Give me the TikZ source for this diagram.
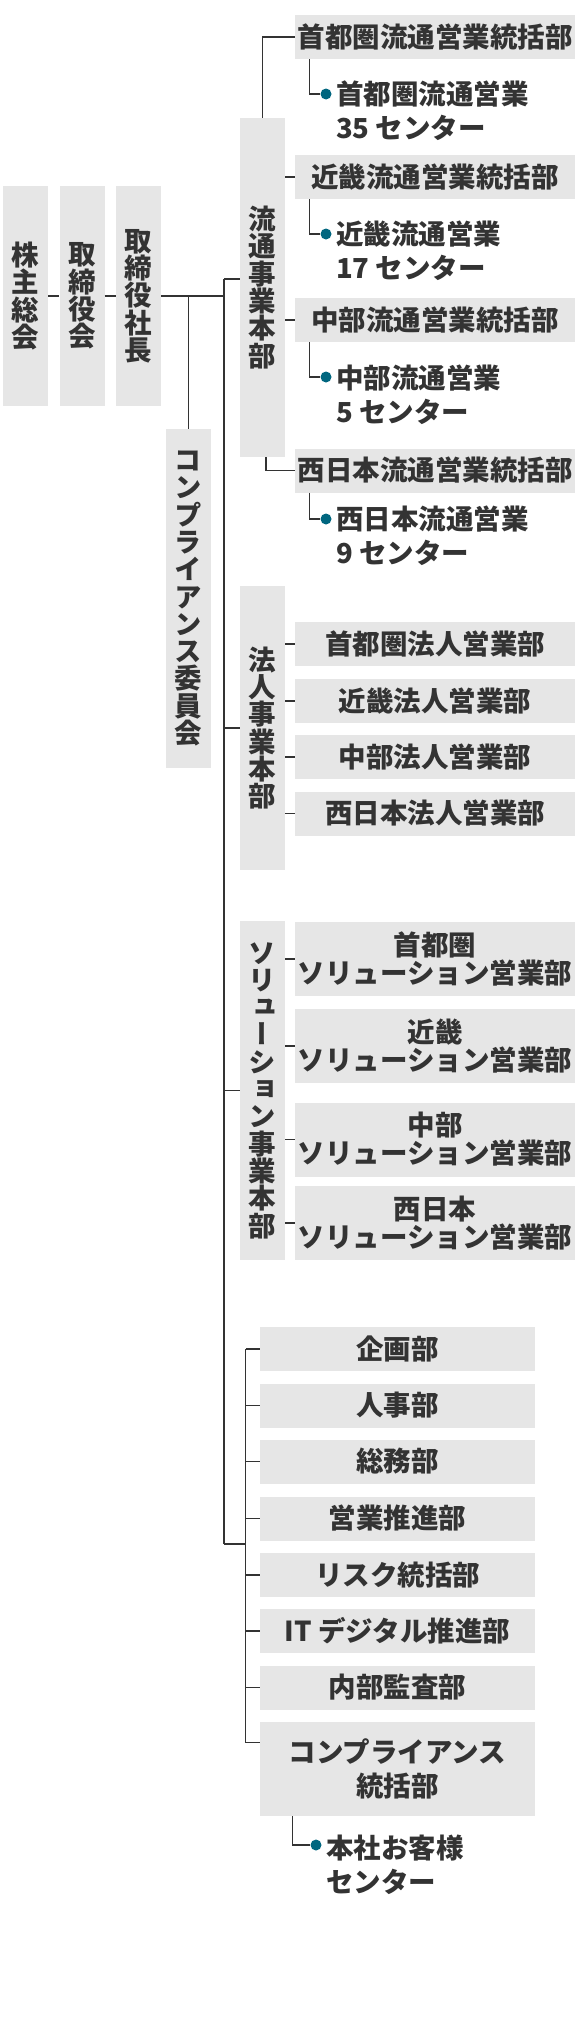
\documentclass[tikz,border=0pt]{standalone}
\usepackage{fontspec}
\setmainfont{Noto Sans CJK JP}
\newfontfamily\jpv{Noto Sans CJK JP}[RawFeature=+vert]
\definecolor{boxgray}{HTML}{E6E6E6}
\definecolor{txtc}{HTML}{333333}
\definecolor{lnc}{HTML}{333333}
\definecolor{dotc}{HTML}{00667F}
\begin{document}
\begin{tikzpicture}[x=1pt,y=-1pt,
  box/.style={fill=boxgray, inner sep=0pt, text=txtc, align=center,
    font=\fontsize{27.5}{34}\selectfont\bfseries},
  hbox/.style={box, minimum width=280pt, minimum height=44pt},
  solbox/.style={box, minimum width=280pt, minimum height=74pt,
    font=\fontsize{27.5}{28}\selectfont\bfseries},
  stbox/.style={box, minimum width=275pt, minimum height=44pt},
  vbox/.style={box, minimum width=45pt,
    font=\jpv\fontsize{27.5}{27.3}\selectfont\bfseries},
  conn/.style={draw=lnc, line width=1.3pt},
  dotn/.style={circle, fill=dotc, inner sep=0pt, minimum size=11pt},
  subt/.style={text=txtc, inner sep=0pt, anchor=west, align=left,
    font=\fontsize{27.5}{34}\selectfont\bfseries}]
\useasboundingbox (0,0) rectangle (580,2026);

% left column
\node[vbox, minimum height=220pt] (sh) at (25.5,296) {株\\主\\総\\会};
\node[vbox, minimum height=220pt] (tr) at (82,296) {取\\締\\役\\会};
\node[vbox, minimum height=220pt] (pres) at (138.5,296) {取\\締\\役\\社\\長};
\node[vbox, minimum height=339pt] (comp) at (188.5,598.5) {コ\\ン\\プ\\ラ\\イ\\ア\\ン\\ス\\委\\員\\会};

% division boxes
\node[vbox, minimum height=339pt] (ryu) at (262.5,287.5) {流\\通\\事\\業\\本\\部};
\node[vbox, minimum height=284pt] (hojin) at (262.5,728) {法\\人\\事\\業\\本\\部};
\node[vbox, minimum height=339pt] (sol) at (262.5,1090.5) {ソ\\リ\\ュ\\ー\\シ\\ョ\\ン\\事\\業\\本\\部};

% distribution
\node[hbox] (r1) at (435,37) {首都圏流通営業統括部};
\node[hbox] (r2) at (435,177) {近畿流通営業統括部};
\node[hbox] (r3) at (435,320) {中部流通営業統括部};
\node[hbox] (r4) at (435,470.5) {西日本流通営業統括部};

\node[dotn] (d1) at (326,94) {};
\node[dotn] (d2) at (326,234) {};
\node[dotn] (d3) at (326,377) {};
\node[dotn] (d4) at (326,519) {};
\node[subt] (t1) at (336,111) {首都圏流通営業\\35 センター};
\node[subt] (t2) at (336,251) {近畿流通営業\\17 センター};
\node[subt] (t3) at (336,394.5) {中部流通営業\\5 センター};
\node[subt] (t4) at (336,535.5) {西日本流通営業\\9 センター};

% corporate
\node[hbox] (h1) at (435,644) {首都圏法人営業部};
\node[hbox] (h2) at (435,701) {近畿法人営業部};
\node[hbox] (h3) at (435,757) {中部法人営業部};
\node[hbox] (h4) at (435,813.5) {西日本法人営業部};

% solution
\node[solbox] (s1) at (435,959) {首都圏\\ソリューション営業部};
\node[solbox] (s2) at (435,1046) {近畿\\ソリューション営業部};
\node[solbox] (s3) at (435,1139.5) {中部\\ソリューション営業部};
\node[solbox] (s4) at (435,1223) {西日本\\ソリューション営業部};

% staff
\node[stbox] (k1) at (397.5,1349) {企画部};
\node[stbox] (k2) at (397.5,1405.5) {人事部};
\node[stbox] (k3) at (397.5,1461.5) {総務部};
\node[stbox] (k4) at (397.5,1518.5) {営業推進部};
\node[stbox] (k5) at (397.5,1575) {リスク統括部};
\node[stbox] (k6) at (397.5,1631) {IT デジタル推進部};
\node[stbox] (k7) at (397.5,1687.5) {内部監査部};
\node[stbox, minimum height=94pt] (cb) at (397.5,1769) {コンプライアンス\\統括部};
\node[dotn] (d5) at (316,1845) {};
\node[subt] (t5) at (326,1864.5) {本社お客様\\センター};

% connectors
\coordinate (tt) at (224,279);
\coordinate (tb) at (224,1544);
\coordinate (sv) at ([xshift=-14pt]k1.west);
\coordinate (cbc) at ([yshift=-21pt]cb.north west);

\draw[conn] (sh.east) -- (tr.west);
\draw[conn] (tr.east) -- (pres.west);
\draw[conn] (pres.east) -- (pres.east -| tt);
\draw[conn] (pres.east -| comp.north) -- (comp.north);
\draw[conn] (tt) -- (tb);
\draw[conn] (tt) -- (tt -| ryu.west);
\draw[conn] (tt |- hojin.west) -- (hojin.west);
\draw[conn] (tt |- sol.west) -- (sol.west);
\draw[conn] (tb) -- (tb -| sv);
\draw[conn] (sv) -- (sv |- cbc);

\draw[conn] (ryu.north) |- (r1.west);
\draw[conn] (ryu.east |- r2.west) -- (r2.west);
\draw[conn] (ryu.east |- r3.west) -- (r3.west);
\draw[conn] ([xshift=3.5pt]ryu.south) |- (r4.west);

\draw[conn] ([xshift=15pt]r1.south west) |- (d1.west);
\draw[conn] ([xshift=15pt]r2.south west) |- (d2.west);
\draw[conn] ([xshift=15pt]r3.south west) |- (d3.west);
\draw[conn] ([xshift=15pt]r4.south west) |- (d4.west);

\foreach \n in {h1,h2,h3,h4} \draw[conn] (hojin.east |- \n.west) -- (\n.west);
\foreach \n in {s1,s2,s3,s4} \draw[conn] (sol.east |- \n.west) -- (\n.west);
\foreach \n in {k1,k2,k3,k4,k5,k6,k7} \draw[conn] (sv |- \n.west) -- (\n.west);
\draw[conn] (sv |- cbc) -- (cbc);
\draw[conn] ([xshift=33pt]cb.south west) |- (d5.west);
\end{tikzpicture}
\end{document}
